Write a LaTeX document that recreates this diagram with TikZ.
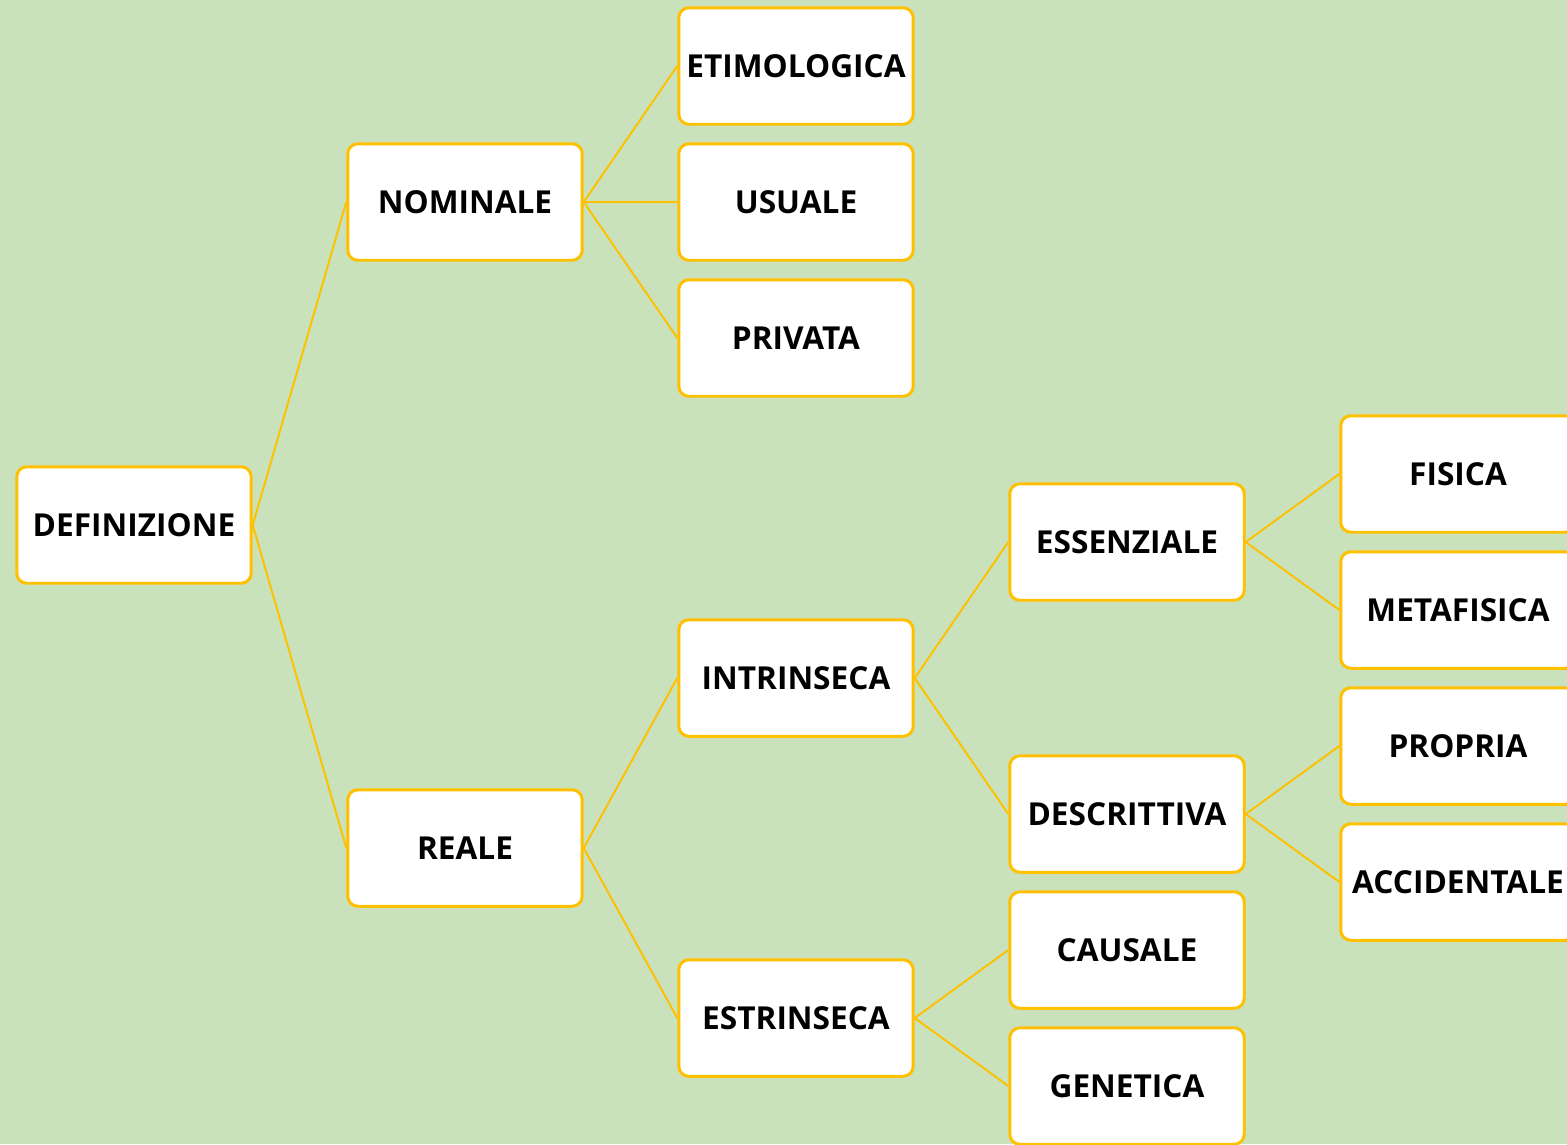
\documentclass[tikz,border=0pt]{standalone}
\usepackage{fontspec}
\setmainfont{Open Sans}
\usepackage{xcolor}
\definecolor{bggreen}{HTML}{C9E2BB}
\definecolor{gold}{HTML}{FFC000}

\tikzset{
  box/.style={draw=gold, line width=1.7pt, fill=white, rounded corners=0.2cm,
    minimum width=4.69cm, minimum height=2.33cm, inner sep=0pt,
    font=\fontsize{18}{22}\selectfont\bfseries},
  link/.style={draw=gold, line width=1.1pt}
}

\begin{document}
\begin{tikzpicture}[x=0.02cm,y=-0.02cm]

\useasboundingbox (0,0) rectangle (1567,1144);
\fill[bggreen] (0,0) rectangle (1567,1144);
\clip (0,0) rectangle (1567,1144);

% first level
\node[box] (def) at (134,525) {DEFINIZIONE};

% second level
\node[box] (nom) at (465,202) {NOMINALE};
\node[box] (rea) at (465,848) {REALE};

% third level
\node[box] (eti) at (796,66) {ETIMOLOGICA};
\node[box] (usu) at (796,202) {USUALE};
\node[box] (pri) at (796,338) {PRIVATA};
\node[box] (int) at (796,678) {INTRINSECA};
\node[box] (est) at (796,1018) {ESTRINSECA};

% fourth level
\node[box] (ess) at (1127,542) {ESSENZIALE};
\node[box] (des) at (1127,814) {DESCRITTIVA};
\node[box] (cau) at (1127,950) {CAUSALE};
\node[box] (gen) at (1127,1086) {GENETICA};

% fifth level
\node[box] (fis) at (1458,474) {FISICA};
\node[box] (met) at (1458,610) {METAFISICA};
\node[box] (pro) at (1458,746) {PROPRIA};
\node[box] (acc) at (1458,882) {ACCIDENTALE};

% links
\draw[link] (def.east)--(nom.west);
\draw[link] (def.east)--(rea.west);
\draw[link] (nom.east)--(eti.west);
\draw[link] (nom.east)--(usu.west);
\draw[link] (nom.east)--(pri.west);
\draw[link] (rea.east)--(int.west);
\draw[link] (rea.east)--(est.west);
\draw[link] (int.east)--(ess.west);
\draw[link] (int.east)--(des.west);
\draw[link] (est.east)--(cau.west);
\draw[link] (est.east)--(gen.west);
\draw[link] (ess.east)--(fis.west);
\draw[link] (ess.east)--(met.west);
\draw[link] (des.east)--(pro.west);
\draw[link] (des.east)--(acc.west);

\end{tikzpicture}
\end{document}
